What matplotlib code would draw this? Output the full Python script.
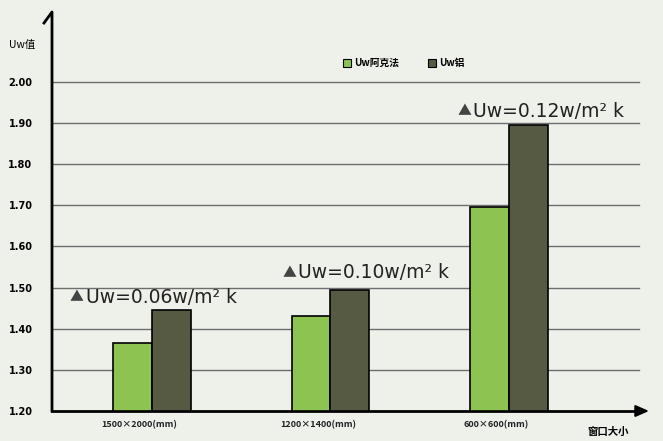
import numpy as np
import matplotlib.pyplot as plt
from matplotlib.lines import Line2D

plt.rcParams['font.family'] = ['Noto Sans CJK SC', 'DejaVu Sans']

# ---------------------------
# Data
# ---------------------------
categories = ["1500×2000(mm)", "1200×1400(mm)", "600×600(mm)"]
uw_akf = [1.365, 1.43, 1.695]
uw_al = [1.445, 1.495, 1.895]
diff_labels = ["Uw=0.06w/m² k", "Uw=0.10w/m² k", "Uw=0.12w/m² k"]
diff_y = [1.477, 1.536, 1.928]
diff_x = [-0.46, 0.73, 1.71]
yticks = [1.20, 1.30, 1.40, 1.50, 1.60, 1.70, 1.80, 1.90, 2.00]

GREEN = "#8dc351"
DARK = "#575a42"
BG = "#eef0ea"

fig = plt.figure(figsize=(6.63, 4.41), dpi=100, facecolor=BG)
ax = fig.add_axes([52 / 663, 30 / 441, 598 / 663, 401 / 441])
ax.set_facecolor(BG)

x = np.arange(len(categories))
w = 0.218
ax.bar(x - w / 2, np.array(uw_akf) - 1.2, w, bottom=1.2, color=GREEN,
       edgecolor="black", linewidth=1.2, zorder=3)
ax.bar(x + w / 2, np.array(uw_al) - 1.2, w, bottom=1.2, color=DARK,
       edgecolor="black", linewidth=1.2, zorder=3)

ax.set_xlim(-0.56, 2.79)
ax.set_ylim(1.2, 2.175)

# grid lines
for t in yticks[1:]:
    ax.plot([-0.56, 2.73], [t, t], color="#6e6e6e", linewidth=1.0, zorder=1)

ax.set_yticks(yticks)
ax.set_yticklabels([f"{t:.2f}" for t in yticks], fontsize=7, fontweight="bold",
                   family="DejaVu Sans")
ax.tick_params(axis="y", length=0, pad=14)
ax.set_xticks([])

for s in ["top", "right"]:
    ax.spines[s].set_visible(False)
ax.spines["left"].set_visible(False)
ax.spines["bottom"].set_linewidth(2)
ax.spines["bottom"].set_bounds(-0.56, 2.73)

# y axis line with hooked tip (figure pixel coords)
fig.add_artist(Line2D([52 / 663, 52 / 663, 44 / 663],
                      [1 - 411 / 441, 1 - 12 / 441, 1 - 23 / 441],
                      transform=fig.transFigure, color="black", lw=2))

# x arrow
ax.annotate("", xy=(2.80, 1.2), xytext=(2.70, 1.2),
            arrowprops=dict(arrowstyle="-|>,head_width=0.35,head_length=0.8",
                            color="black", lw=1.5), annotation_clip=False)

# category labels
for xi, lab in zip(x, categories):
    ax.text(xi - 0.07, 1.167, lab, ha="center", va="center", fontsize=6.5,
            fontweight="bold", color="#222222")

# difference annotations
for xd, yd, lab in zip(diff_x, diff_y, diff_labels):
    ax.text(xd, yd, "▲", ha="left", va="center", fontsize=10, color="#444444")
    ax.text(xd + 0.09, yd, lab, ha="left", va="center", fontsize=13.5,
            color="#222222", family="DejaVu Sans")

fig.text(22 / 663, 1 - 45 / 441, "Uw值", fontsize=7.5, ha="center", va="center")
fig.text(608 / 663, 1 - 432 / 441, "窗口大小", fontsize=7.5, ha="center",
         va="center", fontweight="bold")

# legend
fig.patches.append(plt.Rectangle((343 / 663, 1 - 67 / 441), 8 / 663, 8 / 441,
                                 transform=fig.transFigure, facecolor=GREEN,
                                 edgecolor="black", linewidth=0.8))
fig.text(354 / 663, 1 - 63 / 441, "Uw阿克法", fontsize=7, va="center",
         fontweight="bold")
fig.patches.append(plt.Rectangle((428 / 663, 1 - 67 / 441), 8 / 663, 8 / 441,
                                 transform=fig.transFigure, facecolor=DARK,
                                 edgecolor="black", linewidth=0.8))
fig.text(439 / 663, 1 - 63 / 441, "Uw铝", fontsize=7, va="center",
         fontweight="bold")

fig.savefig("out.png", dpi=100, facecolor=BG)
